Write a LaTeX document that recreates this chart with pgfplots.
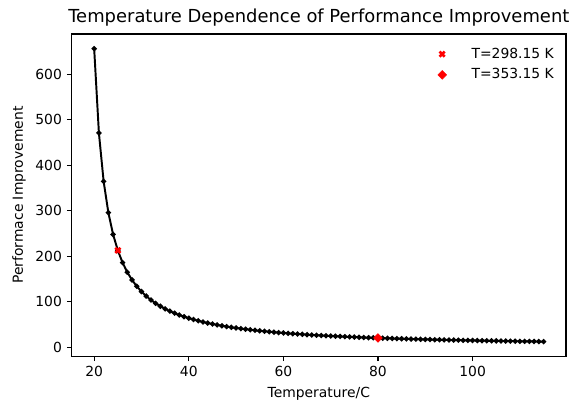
\documentclass[border=0pt]{standalone}
\usepackage{fontspec}
\setmainfont{DejaVu Sans}
\usepackage{pgfplots}
\pgfplotsset{compat=1.18}
\usepackage{pgfplotstable}
\pgfplotstableread{
T P
20 656
21 470.8
22 364.4
23 295.7
24 247.8
25 212.7
26 185.9
27 164.8
28 147.9
29 133.9
30 122.2
31 112.3
32 103.8
33 96.4
34 90.0
35 84.3
36 79.3
37 74.8
38 70.8
39 67.1
40 63.8
41 60.8
42 58.0
43 55.5
44 53.1
45 51.0
46 49.0
47 47.1
48 45.4
49 43.8
50 42.3
51 40.9
52 39.6
53 38.3
54 37.1
55 36.0
56 35.0
57 34.0
58 33.0
59 32.1
60 31.3
61 30.5
62 29.7
63 29.0
64 28.3
65 27.6
66 27.0
67 26.4
68 25.8
69 25.2
70 24.7
71 24.2
72 23.7
73 23.2
74 22.7
75 22.3
76 21.8
77 21.4
78 21.0
79 20.6
80 20.3
81 19.9
82 19.6
83 19.2
84 18.9
85 18.6
86 18.3
87 18.0
88 17.7
89 17.4
90 17.1
91 16.9
92 16.6
93 16.4
94 16.1
95 15.9
96 15.7
97 15.5
98 15.2
99 15.0
100 14.8
101 14.6
102 14.4
103 14.2
104 14.0
105 13.9
106 13.7
107 13.5
108 13.3
109 13.2
110 13.0
111 12.9
112 12.7
113 12.6
114 12.4
115 12.3
}\datatable
\begin{document}
\begin{tikzpicture}
\begin{axis}[
  scale only axis,
  width=355.7pt, height=231.8pt,
  xmin=15.25, xmax=119.75, ymin=-19.7, ymax=688.2,
  xtick={20,40,60,80,100},
  ytick={0,100,200,300,400,500,600},
  tick align=outside,
  xtick pos=left, ytick pos=left,
  major tick length=3.5pt,
  tick style={line width=0.8pt, black},
  axis line style={line width=0.8pt},
  /pgf/number format/assume math mode=true,
  ticklabel style={font=\fontsize{10}{12}\selectfont},
  xlabel={Temperature/C},
  ylabel={Performace Improvement},
  label style={font=\fontsize{10}{12}\selectfont},
  xlabel style={yshift=-1pt},
  title={Temperature Dependence of Performance Improvement},
  title style={font=\fontsize{12.9}{15}\selectfont, yshift=-4pt},
  legend style={at={(0.99,0.975)}, anchor=north east, draw=none, fill=none,
    font=\fontsize{10}{12}\selectfont, row sep=2pt, column sep=16pt},
  legend cell align=left,
]
\addplot[black, line width=1.4pt, mark=*, mark size=1.1pt, forget plot] table[x=T, y=P] {\datatable};
\addplot[only marks, red, mark=x, mark size=2.6pt, line width=1.9pt] coordinates {(25,212.7)};
\addlegendentry{T=298.15 K}
\addplot[only marks, red, mark=square*, mark size=2.2pt, mark options={rotate=45}] coordinates {(80,20.3)};
\addlegendentry{T=353.15 K}
\end{axis}
\pgfresetboundingbox
\path (current axis.south west) ++(-51.6pt,-31.9pt) coordinate (bl);
\path (current axis.north east) ++(3.6pt,24.5pt) coordinate (tr);
\path (bl) rectangle (tr);
\end{tikzpicture}
\end{document}
